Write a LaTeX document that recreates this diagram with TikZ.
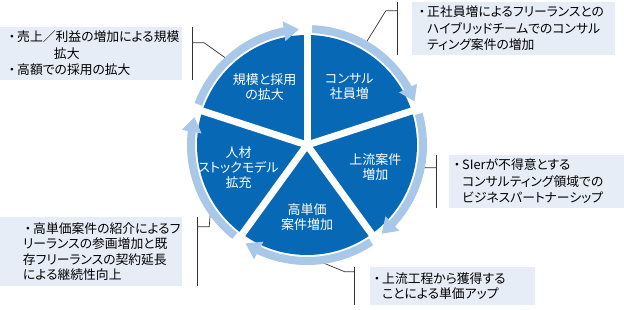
\documentclass[tikz,border=0pt]{standalone}
\usepackage{fontspec}
\setmainfont{Noto Sans CJK JP}[RawFeature=+palt]
\usetikzlibrary{arrows.meta, bending}

\definecolor{pieblue}{HTML}{0768B5}
\definecolor{ringblue}{HTML}{A9C8E8}
\definecolor{notebg}{HTML}{E7EDF7}
\newcommand{\bul}{\makebox[0.8em][c]{・}}

\begin{document}
\begin{tikzpicture}[
  x=1pt, y=1pt,
  note/.style={fill=notebg, inner sep=0pt, align=left, font=\fontsize{12.8}{16.5}\selectfont},
  sectortext/.style={text=white, align=center, font=\fontsize{13}{15}\selectfont},
  ring/.style={ringblue, line width=8pt, -{Triangle[width=19pt, length=15pt]}},
  gapline/.style={white, line width=7pt},
  lead/.style={draw=black!80, line width=0.7pt}
]
\useasboundingbox (0,0) rectangle (624,309);

% pie with five gaps
\coordinate (c) at (307,164);
\fill[pieblue] (c) circle[radius=110];
\foreach \a in {90,18,-54,-126,162}
  \draw[gapline] (c) -- ++(\a:112);

% sector texts
\node[sectortext] (sConsul) at ([shift={(54:72)}]c) {コンサル\\社員増};
\node[sectortext] (sUpper) at ([shift={(-18:72)}]c) {上流案件\\増加};
\node[sectortext] (sUnit) at ([shift={(-90:72)}]c) {高単価\\案件増加};
\node[sectortext] (sStock) at ([shift={(198:72)}]c) {人材\\ストックモデル\\拡充};
\node[sectortext] (sScale) at ([shift={(126:72)}]c) {規模と採用\\の拡大};

% notes
\node[note, minimum width=182pt, minimum height=53pt, text width=168pt] (nScale) at (91,255.5)
  {\bul 売上／利益の増加による規模\\\hspace*{47pt}拡大\\\bul 高額での採用の拡大};
\node[note, minimum width=203pt, minimum height=53pt, text width=193pt] (nConsul) at (513.5,280.5)
  {\bul 正社員増によるフリーランスとの\\\hspace*{0.8em}ハイブリッドチームでのコンサル\\\hspace*{0.8em}ティング案件の増加};
\node[note, minimum width=175pt, minimum height=53pt, text width=169pt] (nUpper) at (536.5,127.5)
  {\bul SIerが不得意とする\\\hspace*{0.8em}コンサルティング領域での\\\hspace*{0.8em}ビジネスパートナーシップ};
\node[note, minimum width=165pt, minimum height=38pt, text width=161pt, font=\fontsize{12.8}{15}\selectfont] (nUnit) at (452.5,23)
  {\bul 上流工程から獲得する\\\hspace*{0.8em}ことによる単価アップ};
\node[note, minimum width=182pt, minimum height=69pt, text width=136pt, font=\fontsize{12.8}{15.4}\selectfont] (nStock) at (91,57.5)
  {\bul 高単価案件の紹介によるフ\\リーランスの参画増加と既\\存フリーランスの契約延長\\による継続性向上};

% ring points
\coordinate (kScale) at ([shift={(133:118)}]c);
\coordinate (kConsul) at ([shift={(60:118)}]c);
\coordinate (kUpper) at ([shift={(-9:118)}]c);
\coordinate (kUnit) at ([shift={(-83:118)}]c);
\coordinate (kStock) at ([shift={(215:118)}]c);

% brackets and leads
\draw[lead] ([xshift=10pt]nScale.north east) -- ([xshift=10pt]nScale.south east);
\draw[lead] ([xshift=10pt, yshift=-16pt]nScale.north east) -- ++(12,0) -- (kScale);
\draw[lead] ([xshift=-14pt]nConsul.north west) -- ([xshift=-14pt]nConsul.south west);
\draw[lead] ([xshift=-14pt, yshift=-9pt]nConsul.north west) -- ++(-12,0) -- (kConsul);
\draw[lead] ([xshift=-12pt]nUpper.north west) -- ([xshift=-12pt]nUpper.south west);
\draw[lead] ([xshift=-12pt, yshift=-13pt]nUpper.north west) -- ++(-12,0) -- (kUpper);
\draw[lead] ([xshift=-15pt]nUnit.north west) -- ([xshift=-15pt]nUnit.south west);
\draw[lead] ([xshift=-15pt, yshift=-5pt]nUnit.north west) -- ++(-10,0) -- (kUnit);
\draw[lead] ([xshift=15pt]nStock.north east) -- ([xshift=15pt]nStock.south east);
\draw[lead] ([xshift=15pt, yshift=-10pt]nStock.north east) -- ++(12,0) -- (kStock);

% cycle arrows
\foreach \a in {90,18,-54,-126,-198}
  \draw[ring] ([shift={(\a-2.5:116)}]c) arc[start angle=\a-2.5, end angle=\a-68, radius=116];

\end{tikzpicture}
\end{document}
